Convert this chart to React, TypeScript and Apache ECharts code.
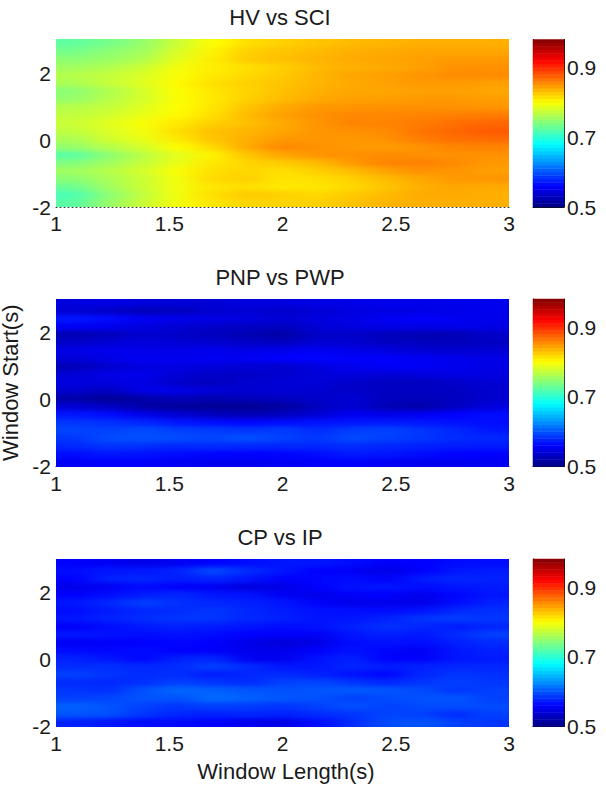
import React, { useEffect, useRef } from "react";
import * as echarts from "echarts";

const titles = ["HV vs SCI", "PNP vs PWP", "CP vs IP"];
const windowLengths = ["1", "1.17", "1.33", "1.5", "1.67", "1.83", "2", "2.17", "2.33", "2.5", "2.67", "2.83", "3"];
const windowStarts = ["3", "2.75", "2.5", "2.25", "2", "1.75", "1.5", "1.25", "1", "0.75", "0.5", "0.25", "0", "-0.25", "-0.5", "-0.75", "-1", "-1.25", "-1.5", "-1.75", "-2"];
const xTicks = [1, 1.5, 2, 2.5, 3];
const yTicks = [-2, 0, 2];
const cbTicks = [0.5, 0.7, 0.9];
const cbLevels = [0.505, 0.515, 0.525, 0.535, 0.545, 0.555, 0.565, 0.575, 0.585, 0.595, 0.605, 0.615, 0.625, 0.635, 0.645, 0.655, 0.665, 0.675, 0.685, 0.695, 0.705, 0.715, 0.725, 0.735, 0.745, 0.755, 0.765, 0.775, 0.785, 0.795, 0.805, 0.815, 0.825, 0.835, 0.845, 0.855, 0.865, 0.875, 0.885, 0.895, 0.905, 0.915, 0.925, 0.935, 0.945, 0.955, 0.965, 0.975];

const hvSci = [
  [725, 735, 750, 775, 800, 815, 822, 828, 832, 835, 838, 838, 838],
  [735, 745, 755, 782, 805, 822, 828, 832, 838, 840, 842, 842, 842],
  [745, 752, 762, 788, 808, 825, 830, 835, 840, 842, 845, 848, 848],
  [755, 762, 775, 795, 808, 815, 822, 832, 838, 840, 845, 852, 852],
  [765, 772, 782, 798, 810, 818, 825, 835, 842, 845, 850, 855, 855],
  [760, 772, 785, 802, 815, 822, 828, 835, 840, 845, 848, 848, 845],
  [745, 762, 780, 800, 812, 820, 830, 838, 842, 842, 845, 845, 842],
  [750, 765, 780, 798, 810, 822, 832, 840, 845, 845, 848, 848, 846],
  [765, 772, 785, 800, 812, 828, 840, 848, 850, 852, 852, 852, 850],
  [770, 778, 790, 802, 815, 832, 845, 852, 856, 856, 858, 860, 862],
  [775, 785, 798, 810, 822, 830, 840, 850, 858, 858, 862, 868, 872],
  [770, 782, 795, 815, 830, 835, 842, 850, 852, 855, 866, 872, 878],
  [760, 778, 790, 810, 828, 838, 848, 850, 848, 852, 862, 868, 870],
  [750, 765, 780, 800, 818, 840, 856, 852, 848, 846, 852, 858, 858],
  [722, 745, 768, 788, 805, 828, 842, 850, 852, 855, 852, 852, 852],
  [740, 755, 772, 790, 810, 820, 825, 832, 848, 858, 860, 855, 848],
  [755, 765, 780, 798, 815, 820, 815, 822, 832, 845, 852, 850, 845],
  [745, 760, 775, 795, 818, 822, 812, 815, 822, 832, 842, 848, 850],
  [730, 755, 775, 795, 812, 815, 810, 812, 818, 828, 838, 842, 840],
  [715, 745, 770, 795, 815, 825, 822, 818, 825, 832, 840, 840, 838],
  [722, 750, 775, 795, 812, 820, 820, 822, 828, 835, 838, 838, 838],
];

const pnpPwp = [
  [545, 548, 545, 542, 540, 545, 545, 548, 550, 552, 550, 552, 552],
  [540, 535, 528, 530, 538, 540, 535, 540, 545, 548, 548, 550, 552],
  [570, 565, 555, 550, 548, 545, 540, 545, 548, 555, 558, 555, 550],
  [555, 552, 545, 540, 535, 532, 530, 540, 545, 548, 548, 550, 548],
  [525, 528, 538, 535, 530, 525, 518, 535, 535, 528, 525, 525, 535],
  [535, 540, 545, 540, 538, 535, 530, 540, 538, 532, 530, 528, 532],
  [548, 552, 550, 548, 552, 548, 552, 555, 550, 545, 540, 538, 540],
  [542, 548, 555, 552, 555, 555, 560, 562, 558, 560, 555, 552, 548],
  [525, 538, 545, 548, 542, 540, 538, 545, 552, 558, 555, 552, 548],
  [540, 548, 552, 540, 535, 535, 538, 542, 545, 540, 545, 548, 545],
  [545, 545, 548, 535, 530, 538, 540, 542, 535, 532, 530, 535, 540],
  [538, 530, 550, 550, 542, 538, 540, 538, 535, 530, 532, 532, 538],
  [520, 512, 520, 528, 522, 528, 530, 535, 540, 530, 528, 530, 538],
  [540, 532, 520, 512, 512, 510, 515, 530, 540, 525, 520, 532, 545],
  [570, 565, 550, 540, 530, 525, 530, 540, 555, 550, 555, 560, 565],
  [585, 582, 578, 570, 565, 562, 565, 568, 570, 572, 570, 568, 565],
  [592, 590, 595, 590, 588, 585, 588, 580, 588, 592, 585, 578, 570],
  [585, 595, 598, 595, 592, 598, 590, 585, 595, 590, 585, 580, 578],
  [578, 585, 582, 578, 580, 578, 578, 578, 580, 578, 575, 572, 572],
  [565, 570, 568, 565, 562, 560, 562, 565, 572, 570, 565, 560, 560],
  [555, 560, 558, 555, 552, 552, 555, 558, 560, 555, 552, 552, 555],
];

const cpIp = [
  [560, 555, 550, 555, 560, 565, 570, 570, 565, 558, 560, 565, 565],
  [565, 570, 570, 575, 595, 580, 570, 560, 555, 548, 560, 570, 572],
  [560, 575, 578, 572, 578, 570, 558, 562, 565, 558, 572, 578, 575],
  [550, 555, 565, 560, 555, 545, 548, 560, 568, 570, 565, 570, 572],
  [560, 565, 572, 578, 570, 568, 555, 550, 558, 560, 552, 562, 570],
  [570, 578, 590, 582, 578, 575, 570, 558, 550, 552, 548, 565, 575],
  [565, 572, 578, 580, 585, 578, 572, 568, 565, 565, 568, 578, 582],
  [570, 575, 580, 585, 585, 578, 575, 568, 570, 575, 585, 588, 585],
  [558, 565, 572, 575, 572, 570, 565, 568, 575, 582, 578, 572, 578],
  [570, 568, 565, 568, 565, 560, 558, 555, 570, 575, 570, 580, 590],
  [555, 558, 560, 562, 560, 550, 542, 548, 565, 568, 565, 575, 580],
  [565, 562, 565, 560, 558, 552, 550, 560, 568, 562, 555, 570, 575],
  [575, 570, 562, 575, 578, 555, 552, 568, 575, 560, 558, 570, 572],
  [580, 582, 578, 580, 590, 580, 570, 570, 578, 572, 575, 578, 578],
  [590, 585, 580, 582, 572, 578, 580, 575, 568, 562, 578, 585, 582],
  [580, 578, 582, 590, 585, 580, 590, 592, 585, 578, 585, 590, 585],
  [585, 582, 598, 608, 605, 600, 598, 600, 602, 600, 595, 585, 590],
  [590, 592, 600, 598, 610, 605, 600, 598, 590, 595, 598, 600, 590],
  [605, 600, 590, 585, 590, 588, 585, 590, 598, 590, 595, 595, 595],
  [600, 598, 585, 578, 575, 578, 575, 580, 585, 592, 590, 580, 590],
  [575, 570, 565, 565, 560, 552, 548, 565, 580, 595, 600, 590, 585],
];

const matrices = [hvSci, pnpPwp, cpIp];
const plotTops = [39.5, 299, 559];
const plotHeight = 167.5;
const plotLeft = 56;
const plotWidth = 453;
const FONT = "Liberation Sans";
const INK = "#1a1a1a";
const JET = ["#000080", "#0000ff", "#0080ff", "#00ffff", "#80ff80", "#ffff00", "#ff8000", "#ff0000", "#800000"];
const bottomDots: any[] = [{ color: "#333", dash: [1, 3] }, { color: "#0000e0", dash: [2, 2] }, null];

function buildOption() {
  const grid: any[] = [], xAxis: any[] = [], yAxis: any[] = [], series: any[] = [], title: any[] = [];
  const hidden = { axisLine: { show: false }, axisTick: { show: false }, axisLabel: { show: false }, splitLine: { show: false } };
  matrices.forEach((m, p) => {
    const top = plotTops[p];
    const gi = p * 2;
    grid.push({ left: plotLeft, top, width: plotWidth, height: plotHeight, outerBoundsMode: "none", containLabel: false });
    grid.push({ left: 533, top, width: 31, height: plotHeight, outerBoundsMode: "none", containLabel: false });
    title.push({ text: titles[p], left: 280, top: top - 33, padding: 0, textAlign: "center", textStyle: { fontFamily: FONT, fontSize: 22, fontWeight: "normal", color: INK } });

    const base = xAxis.length;
    const ybase = yAxis.length;
    xAxis.push({ type: "category", gridIndex: gi, data: windowLengths, ...hidden });
    yAxis.push({ type: "category", gridIndex: gi, data: [...windowStarts].reverse(), ...hidden });
    const dots = bottomDots[p];
    xAxis.push({
      type: "value", gridIndex: gi, min: 1, max: 3, interval: 0.5, position: "bottom",
      axisLine: dots ? { show: true, onZero: false, lineStyle: { color: dots.color, width: 1, type: dots.dash } } : { show: false },
      axisTick: { show: false },
      splitLine: { show: false },
      axisLabel: { color: INK, fontFamily: FONT, fontSize: 21, margin: 6, showMinLabel: true, showMaxLabel: true, customValues: xTicks, formatter: (v: number) => String(v) },
      ...(p === 2 ? { name: "Window Length(s)", nameLocation: "middle", nameGap: 34, nameTextStyle: { color: INK, fontFamily: FONT, fontSize: 22, padding: [0, 0, 0, 7] } } : {}),
    });
    yAxis.push({
      type: "value", gridIndex: gi, min: -2, max: 3, position: "left",
      axisLine: { show: false },
      axisTick: { show: false },
      splitLine: { show: false },
      axisLabel: { color: INK, fontFamily: FONT, fontSize: 21, margin: 5, customValues: yTicks, formatter: (v: number) => String(v) },
      ...(p === 1 ? { name: "Window Start(s)", nameLocation: "middle", nameGap: 33, nameRotate: 90, nameTextStyle: { color: INK, fontFamily: FONT, fontSize: 22 } } : {}),
    });
    const data: any[] = [];
    m.forEach((row, r) => row.forEach((v, c) => data.push([c, windowStarts.length - 1 - r, v / 1000])));
    series.push({ type: "heatmap", xAxisIndex: base, yAxisIndex: ybase, data, progressive: 0, silent: true, itemStyle: { borderWidth: 0 }, emphasis: { disabled: true } });

    const cbx = xAxis.length;
    const cby = yAxis.length;
    const frame = { show: true, onZero: false, lineStyle: { color: "#111", width: 1 } };
    xAxis.push({ type: "category", gridIndex: gi + 1, data: ["c"], ...hidden, axisLine: frame });
    yAxis.push({ type: "category", gridIndex: gi + 1, data: cbLevels.map(String), ...hidden, axisLine: frame });
    yAxis.push({
      type: "value", gridIndex: gi + 1, min: 0.5, max: 0.982, position: "right",
      axisLine: frame,
      axisTick: { show: true, inside: true, length: 3, customValues: cbTicks, lineStyle: { color: "#111" } },
      splitLine: { show: false },
      axisLabel: { color: INK, fontFamily: FONT, fontSize: 21, margin: 3, customValues: cbTicks, formatter: (v: number) => v.toFixed(1) },
    });
    series.push({ type: "heatmap", xAxisIndex: cbx, yAxisIndex: cby, data: cbLevels.map((v, i) => [0, i, v]), progressive: 0, silent: true, itemStyle: { borderWidth: 0 }, emphasis: { disabled: true } });
  });
  return {
    animation: false,
    backgroundColor: "#fff",
    title, grid, xAxis, yAxis, series,
    tooltip: { show: false },
    visualMap: { show: false, type: "continuous", min: 0.5, max: 0.98, dimension: 2, seriesIndex: series.map((_, i) => i), inRange: { color: JET } },
  };
}

// Soften the library's heat cells (the reference is a smooth raster): gather each plot's cells in a filtered group.
function softenCells(root: HTMLElement) {
  const svg = root.querySelector("svg");
  if (!svg) return;
  const NS = "http://www.w3.org/2000/svg";
  const defs = document.createElementNS(NS, "defs");
  svg.insertBefore(defs, svg.firstChild);
  const paths = Array.from(svg.querySelectorAll("path")) as SVGPathElement[];
  plotTops.forEach((top, p) => {
    const cells = paths.filter((el) => {
      const b = el.getBBox();
      return b.width > 20 && b.width < 60 && b.height > 4 && b.height < 12 && b.x >= plotLeft - 1 && b.x + b.width <= plotLeft + plotWidth + 1 && b.y >= top - 1 && b.y + b.height <= top + plotHeight + 1;
    });
    if (!cells.length) return;
    const f = document.createElementNS(NS, "filter");
    f.setAttribute("id", "soft" + p);
    f.setAttribute("filterUnits", "userSpaceOnUse");
    f.setAttribute("x", String(plotLeft));
    f.setAttribute("y", String(top));
    f.setAttribute("width", String(plotWidth));
    f.setAttribute("height", String(plotHeight));
    f.setAttribute("color-interpolation-filters", "sRGB");
    const blur = document.createElementNS(NS, "feGaussianBlur");
    blur.setAttribute("stdDeviation", "13 2.2");
    const ct = document.createElementNS(NS, "feComponentTransfer");
    const fa = document.createElementNS(NS, "feFuncA");
    fa.setAttribute("type", "linear");
    fa.setAttribute("slope", "100");
    ct.appendChild(fa);
    f.appendChild(blur);
    f.appendChild(ct);
    defs.appendChild(f);
    const g = document.createElementNS(NS, "g");
    g.setAttribute("filter", `url(#soft${p})`);
    cells[0].parentNode!.insertBefore(g, cells[0]);
    cells.forEach((c) => g.appendChild(c));
  });
}

export default function App() {
  const ref = useRef<HTMLDivElement>(null);
  useEffect(() => {
    const chart = echarts.init(ref.current!, undefined, { renderer: "svg" });
    chart.setOption(buildOption() as any);
    softenCells(ref.current!);
    return () => chart.dispose();
  }, []);
  return <div ref={ref} style={{ position: "absolute", left: 0, top: 0, width: 606, height: 791 }} />;
}
